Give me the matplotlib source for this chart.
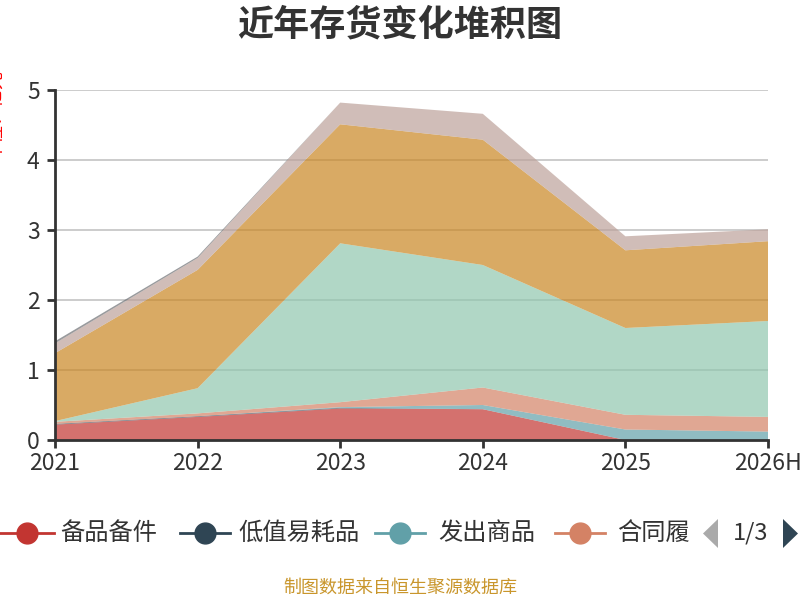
import numpy as np
import matplotlib
matplotlib.use('Agg')
import matplotlib.pyplot as plt
from matplotlib.lines import Line2D
from matplotlib.patches import Polygon

plt.rcParams['font.family'] = ['Noto Sans CJK SC', 'DejaVu Sans']

# 数据 (单位：亿元)
years = ['2021', '2022', '2023', '2024', '2025', '2026H']
names = ['备品备件', '低值易耗品', '发出商品', '合同履', '库存商品',
         '委托加工物资', '原材料', '在产品', '周转材料']
beipin = [0.22, 0.33, 0.45, 0.44, 0.0, 0.0]
dizhi = [0.01, 0.01, 0.01, 0.0, 0.0, 0.0]
fachu = [0.0, 0.0, 0.01, 0.06, 0.15, 0.12]
hetong = [0.03, 0.04, 0.07, 0.25, 0.21, 0.21]
kucun = [0.01, 0.36, 2.27, 1.75, 1.24, 1.37]
weituo = [0.0, 0.0, 0.0, 0.0, 0.0, 0.0]
yuancailiao = [0.97, 1.69, 1.70, 1.79, 1.11, 1.14]
zaichanpin = [0.14, 0.17, 0.31, 0.37, 0.20, 0.17]
zhouzhuan = [0.03, 0.02, 0.0, 0.0, 0.0, 0.0]

colors = ['#c23531', '#2f4554', '#61a0a8', '#d48265', '#91c7ae',
          '#749f83', '#ca8622', '#bda29a', '#6e7074']

fig = plt.figure(figsize=(8, 6), dpi=100)
ax = fig.add_axes([55/800, 1-440/600, (768-55)/800, (440-90)/600])

x = np.arange(len(years))
ax.stackplot(x, beipin, dizhi, fachu, hetong, kucun, weituo, yuancailiao,
             zaichanpin, zhouzhuan, colors=colors, alpha=0.7, lw=0, zorder=2)

ax.set_xlim(0, len(years)-1)
ax.set_ylim(0, 5)
ax.set_yticks([0, 1, 2, 3, 4, 5])
ax.set_xticks(x)
ax.set_xticklabels(years)
for yv in [1, 2, 3, 4, 5]:
    ax.axhline(yv, color='#c8c8c8', lw=1.3, zorder=1)

for s in ['top', 'right']:
    ax.spines[s].set_visible(False)
for s in ['left', 'bottom']:
    ax.spines[s].set_color('#333333')
    ax.spines[s].set_linewidth(2)
    ax.spines[s].set_zorder(3)
ax.tick_params(axis='both', colors='#333333', labelsize=16.5, width=2, length=6,
               direction='out')
ax.tick_params(axis='x', pad=3)
ax.tick_params(axis='y', pad=5)

fig.text(0.5, 1-25/600, '近年存货变化堆积图', ha='center', va='center',
         fontsize=26, fontweight='bold', color='#333333')
fig.text(0.006, 1-115/600, '单位：亿元', ha='right', va='center', rotation=90,
         fontsize=13, color='red')

# legend (first page)
ly = 1-533/600
items = [(0, 27, 60), (180, 205, 238), (375, 400, 438), (555, 580, 617)]
for i, (lx0, cx, tx) in enumerate(items):
    fig.add_artist(Line2D([lx0/800, (2*cx-lx0)/800], [ly, ly], color=colors[i],
                          lw=2, transform=fig.transFigure))
    fig.add_artist(Line2D([cx/800], [ly], marker='o', markersize=15,
                          color=colors[i], transform=fig.transFigure))
    fig.text(tx/800, ly, names[i], ha='left', va='center', fontsize=17.5,
             color='#333333')
fig.add_artist(Polygon([[718/800, 1-519/600], [718/800, 1-548/600],
                        [703/800, 1-533.5/600]], closed=True, facecolor='#aaaaaa',
                       edgecolor='none', transform=fig.transFigure, zorder=6))
fig.add_artist(Polygon([[783/800, 1-519/600], [783/800, 1-548/600],
                        [798/800, 1-533.5/600]], closed=True, facecolor='#2f4554',
                       edgecolor='none', transform=fig.transFigure, zorder=6))
fig.text(751/800, ly, '1/3', ha='center', va='center', fontsize=17,
         color='#333333', zorder=7)

fig.text(0.5, 1-588/600, '制图数据来自恒生聚源数据库', ha='center', va='center',
         fontsize=13, color='#c9962c')

fig.savefig('out.png', dpi=100)
